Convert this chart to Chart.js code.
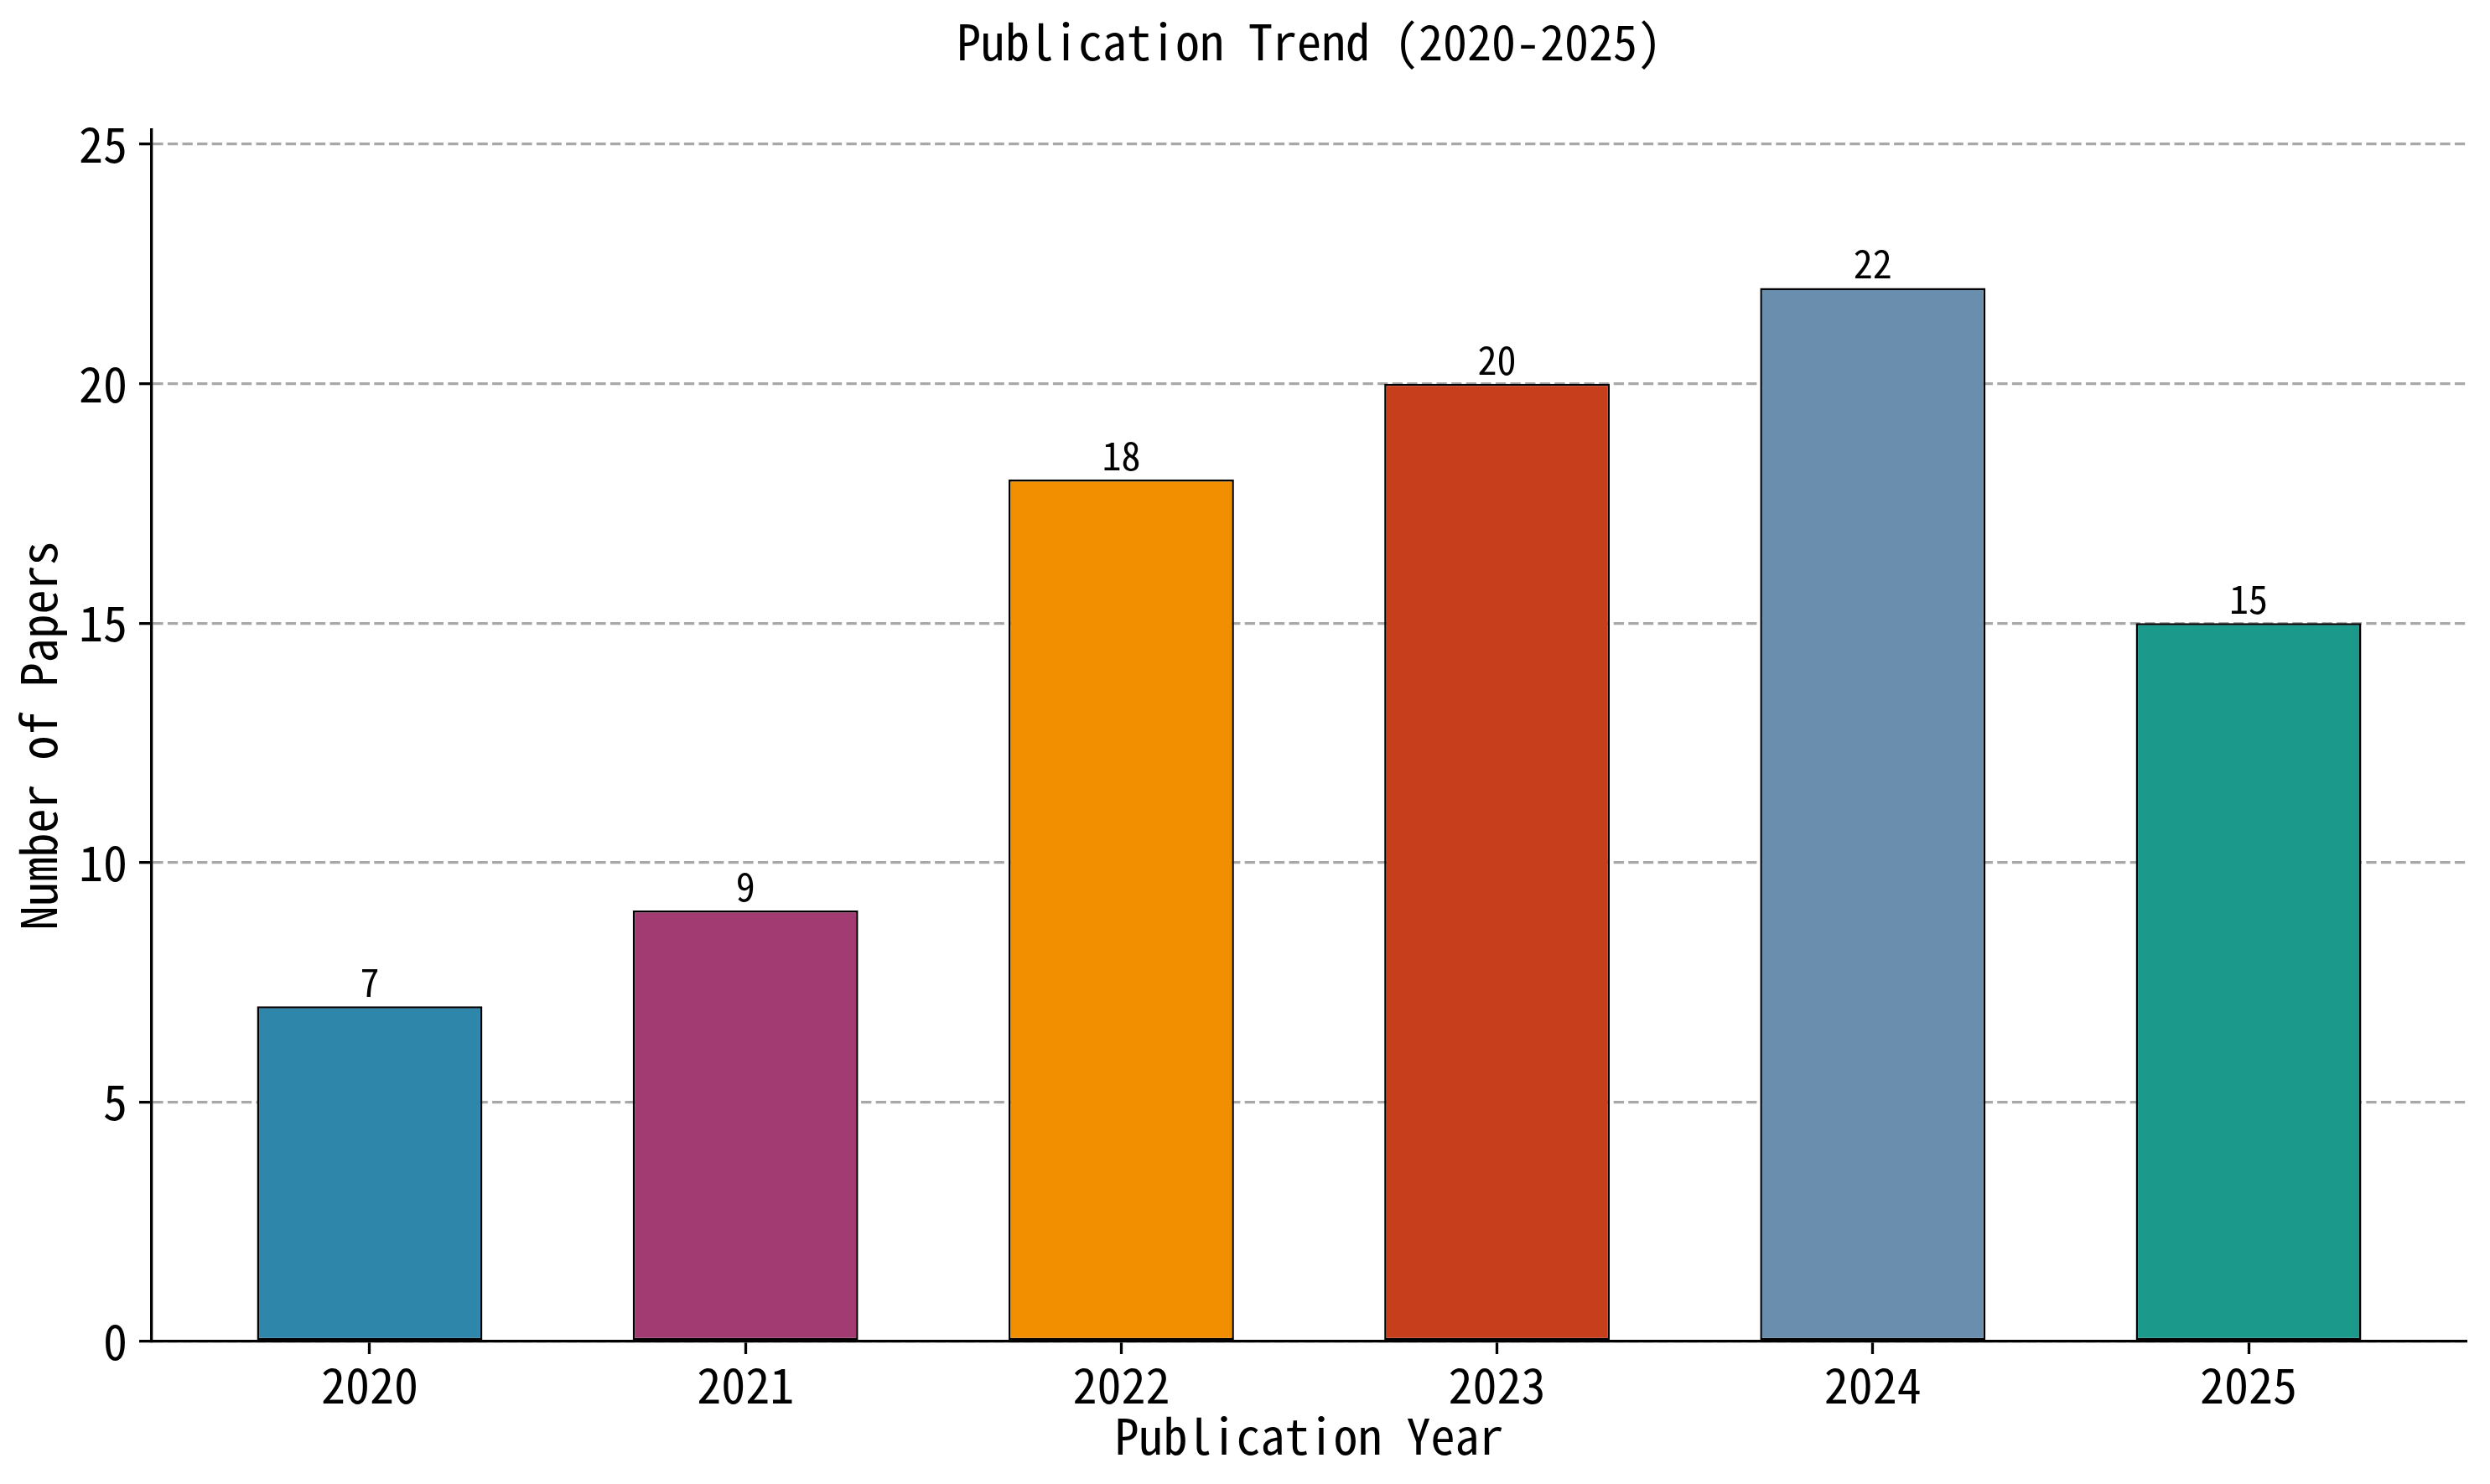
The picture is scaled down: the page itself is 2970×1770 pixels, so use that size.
<!DOCTYPE html>
<html lang="en">
<head>
<meta charset="UTF-8">
<title>Publication Trend (2020-2025)</title>
<style>
    html, body {
        margin: 0;
        padding: 0;
        background: #ffffff;
    }
    #trendChart {
        display: block;
    }
</style>
</head>
<body>
<canvas id="trendChart" width="2970" height="1770"></canvas>

<script src="https://cdn.jsdelivr.net/npm/chart.js"></script>
<script>
    // data
    const years = ['2020', '2021', '2022', '2023', '2024', '2025'];
    const paperCounts = [7, 9, 18, 20, 22, 15];
    const barColors = ['#2E86AB', '#A23B72', '#F18F01', '#C73E1D', '#6A8EAE', '#1B998B'];
    const yTickValues = [0, 5, 10, 15, 20, 25];

    const fontFamily = "'Noto Sans Mono CJK SC', 'Noto Sans CJK SC', sans-serif";
    const lineW = 3.3;

    // matplotlib style limits: bars of width 0.6 plus 5% margins, y up to max * 1.15
    const barWidth = 0.6;
    const span = (years.length - 1) + barWidth;
    const xMin = -barWidth / 2 - span * 0.05;
    const xMax = (years.length - 1) + barWidth / 2 + span * 0.05;
    const yMax = Math.max(...paperCounts) * 1.15;

    // numbers above each bar
    const valueLabels = {
        id: 'valueLabels',
        afterDatasetsDraw(chart) {
            const ctx = chart.ctx;
            const meta = chart.getDatasetMeta(0);
            ctx.save();
            ctx.font = '46px ' + fontFamily;
            ctx.fillStyle = '#000000';
            ctx.textAlign = 'center';
            ctx.textBaseline = 'alphabetic';
            meta.data.forEach((bar, i) => {
                ctx.fillText(String(paperCounts[i]), bar.x, bar.y - 11);
            });
            ctx.restore();
        }
    };

    const ctx = document.getElementById('trendChart').getContext('2d');
    const trendChart = new Chart(ctx, {
        type: 'bar',
        data: {
            datasets: [{
                label: 'Number of Papers',
                data: paperCounts.map((v, i) => ({ x: i, y: v })),
                backgroundColor: barColors,
                borderColor: '#000000',
                borderWidth: 2.5,
                borderSkipped: false,
                barPercentage: barWidth,
                categoryPercentage: 1.0
            }]
        },
        options: {
            responsive: false,
            devicePixelRatio: 1,
            animation: false,
            layout: {
                padding: { left: 0, right: 28, top: 0, bottom: 0 }
            },
            plugins: {
                legend: { display: false },
                tooltip: { enabled: false },
                title: {
                    display: true,
                    text: 'Publication Trend (2020-2025)',
                    fullSize: false,
                    color: '#000000',
                    font: { family: fontFamily, size: 58, weight: 'normal', lineHeight: 1 },
                    padding: { top: 21, bottom: 76 }
                }
            },
            scales: {
                x: {
                    type: 'linear',
                    min: xMin,
                    max: xMax,
                    offset: false,
                    afterBuildTicks: axis => {
                        axis.ticks = years.map((y, i) => ({ value: i }));
                    },
                    afterFit: axis => {
                        axis.height = 170;
                    },
                    ticks: {
                        color: '#000000',
                        padding: 8,
                        maxRotation: 0,
                        autoSkip: false,
                        font: { family: fontFamily, size: 58, lineHeight: 1 },
                        callback: value => years[value]
                    },
                    grid: {
                        display: true,
                        offset: false,
                        drawOnChartArea: false,
                        drawTicks: true,
                        tickLength: 15,
                        tickColor: '#000000',
                        tickWidth: lineW
                    },
                    border: {
                        display: true,
                        color: '#000000',
                        width: lineW
                    },
                    title: {
                        display: true,
                        text: 'Publication Year',
                        color: '#000000',
                        font: { family: fontFamily, size: 58, lineHeight: 1 },
                        padding: { top: 0, bottom: 28 }
                    }
                },
                y: {
                    type: 'linear',
                    min: 0,
                    max: yMax,
                    afterBuildTicks: axis => {
                        axis.ticks = yTickValues.map(v => ({ value: v }));
                    },
                    afterFit: axis => {
                        axis.width = 181;
                    },
                    ticks: {
                        color: '#000000',
                        padding: 14,
                        font: { family: fontFamily, size: 58, lineHeight: 1 }
                    },
                    grid: {
                        display: true,
                        drawOnChartArea: true,
                        drawTicks: true,
                        color: '#a8a8a8',
                        lineWidth: lineW,
                        tickLength: 15,
                        tickColor: '#000000',
                        tickWidth: lineW,
                        tickBorderDash: []
                    },
                    border: {
                        display: true,
                        color: '#000000',
                        width: lineW,
                        dash: [12.3, 5.3]
                    },
                    title: {
                        display: true,
                        text: 'Number of Papers',
                        color: '#000000',
                        font: { family: fontFamily, size: 58, lineHeight: 1 },
                        padding: { top: 17, bottom: 0 }
                    }
                }
            }
        },
        plugins: [valueLabels]
    });
</script>
</body>
</html>
